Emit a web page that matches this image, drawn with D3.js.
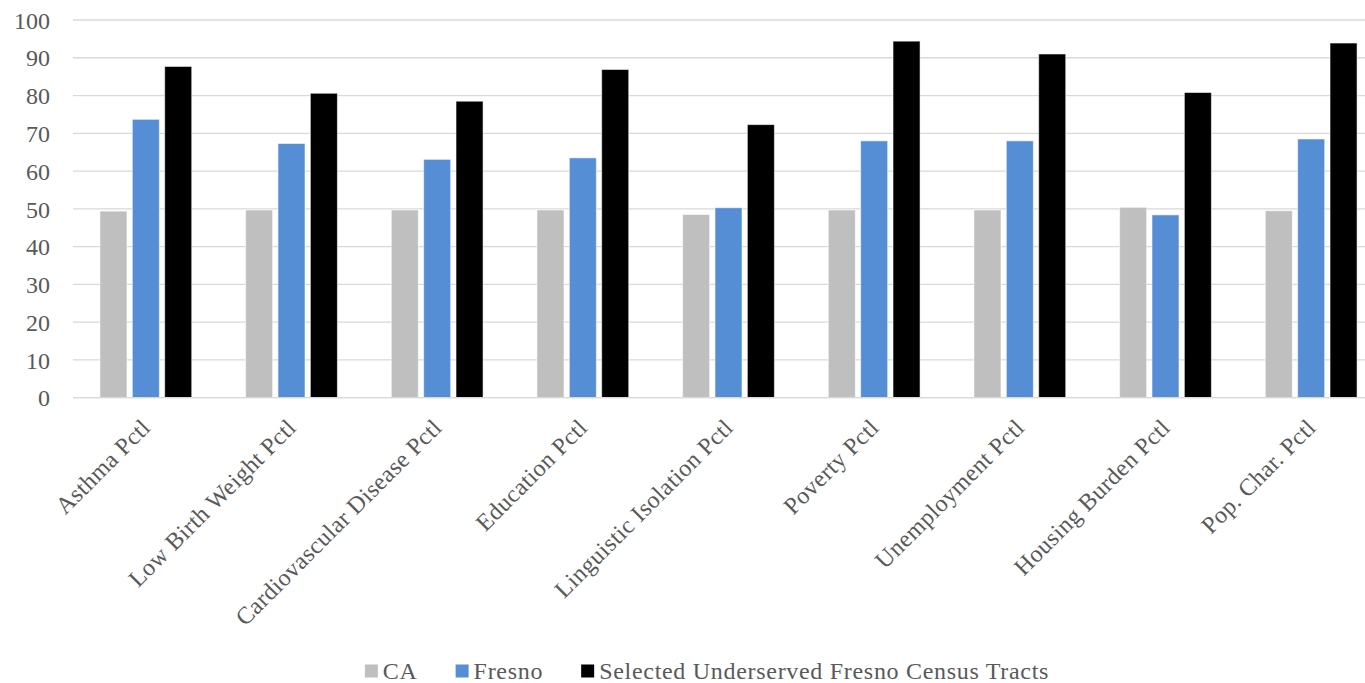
<!DOCTYPE html>
<html>
<head>
<meta charset="utf-8">
<script src="https://cdn.jsdelivr.net/npm/d3@7"></script>
<style>
  html, body { margin: 0; padding: 0; background: #fff; }
  svg { display: block; }
  text { font-family: "Liberation Serif", "DejaVu Serif", serif; fill: #595959; }
</style>
</head>
<body>
<svg id="chart" width="1365" height="683"></svg>
<script>
// Percentile indicators compared across three geographies
const categories = [
  "Asthma Pctl", "Low Birth Weight Pctl", "Cardiovascular Disease Pctl",
  "Education Pctl", "Linguistic Isolation Pctl", "Poverty Pctl",
  "Unemployment Pctl", "Housing Burden Pctl", "Pop. Char. Pctl"
];
const seriesNames = ["CA", "Fresno", "Selected Underserved Fresno Census Tracts"];
const caValues       = [49.4, 49.7, 49.7, 49.7, 48.5, 49.7, 49.7, 50.4, 49.5];
const fresnoValues   = [73.7, 67.3, 63.1, 63.5, 50.3, 68.0, 68.0, 48.4, 68.5];
const selectedValues = [87.7, 80.6, 78.5, 86.9, 72.3, 94.4, 91.0, 80.8, 93.9];
const yTicks = [0, 10, 20, 30, 40, 50, 60, 70, 80, 90, 100];
const colors = ["#bfbfbf", "#558ed5", "#000000"];

const seriesValues = [caValues, fresnoValues, selectedValues];
const rows = categories.map((c, i) => ({
  category: c,
  values: seriesNames.map((s, j) => ({ series: s, value: seriesValues[j][i] }))
}));

const svg = d3.select("#chart");
const plot = { left: 73, right: 1384, top: 20, bottom: 397.7 };

const x0 = d3.scaleBand()
  .domain(categories)
  .range([plot.left, plot.right])
  .paddingInner(0.37)
  .paddingOuter(0.185);

const x1 = d3.scaleBand()
  .domain(seriesNames)
  .range([0, x0.bandwidth()])
  .paddingInner(0.165);

const y = d3.scaleLinear().domain([0, 100]).range([plot.bottom, plot.top]);
const color = d3.scaleOrdinal().domain(seriesNames).range(colors);

// Horizontal gridlines
svg.append("g")
  .selectAll("line")
  .data(yTicks)
  .join("line")
  .attr("x1", plot.left)
  .attr("x2", 1365)
  .attr("y1", d => y(d))
  .attr("y2", d => y(d))
  .attr("stroke", "#d9d9d9")
  .attr("stroke-width", 1.3);

// Y axis labels
const yAxis = d3.axisLeft(y).tickValues(yTicks).tickSize(0).tickPadding(0);
svg.append("g")
  .attr("transform", "translate(50,0)")
  .call(yAxis)
  .call(g => g.select(".domain").remove())
  .selectAll("text")
  .attr("font-family", "Liberation Serif, DejaVu Serif, serif")
  .attr("font-size", 24)
  .attr("fill", "#595959")
  .attr("dy", "0.34em");

// Bars
const groups = svg.append("g")
  .selectAll("g")
  .data(rows)
  .join("g")
  .attr("transform", d => `translate(${x0(d.category)},0)`);

groups.selectAll("rect")
  .data(d => d.values)
  .join("rect")
  .attr("x", d => x1(d.series))
  .attr("width", x1.bandwidth())
  .attr("y", d => y(d.value))
  .attr("height", d => y(0) - y(d.value))
  .attr("fill", d => color(d.series))
  .attr("stroke", "#ffffff")
  .attr("stroke-opacity", 0.55)
  .attr("stroke-width", 1);

// Baseline
svg.append("line")
  .attr("x1", plot.left).attr("x2", 1365)
  .attr("y1", y(0)).attr("y2", y(0))
  .attr("stroke", "#d9d9d9")
  .attr("stroke-width", 1.3);

// Rotated category labels
svg.append("g")
  .selectAll("text")
  .data(categories)
  .join("text")
  .attr("transform", d => `translate(${x0(d) + x0.bandwidth() / 2 + 6},429) rotate(-45)`)
  .attr("text-anchor", "end")
  .attr("font-size", 24)
  .attr("letter-spacing", 0.4)
  .text(d => d);

// Legend
const legend = svg.append("g");
const legendY = 671;
const items = legend.selectAll("g")
  .data(seriesNames)
  .join("g");
items.append("rect")
  .attr("width", 13).attr("height", 13)
  .attr("y", legendY - 6.5)
  .attr("fill", d => color(d));
items.append("text")
  .attr("x", 18)
  .attr("y", legendY)
  .attr("dy", "0.35em")
  .attr("font-size", 24)
  .attr("letter-spacing", 0.7)
  .text(d => d);

let cursor = 0;
const offsets = [];
items.each(function () {
  offsets.push(cursor);
  const w = this.querySelector("text").getComputedTextLength();
  cursor += 18 + w + 38;
});
const totalWidth = cursor - 38;
const startX = 707 - totalWidth / 2;
items.attr("transform", (d, i) => `translate(${startX + offsets[i]},0)`);
</script>
</body>
</html>
